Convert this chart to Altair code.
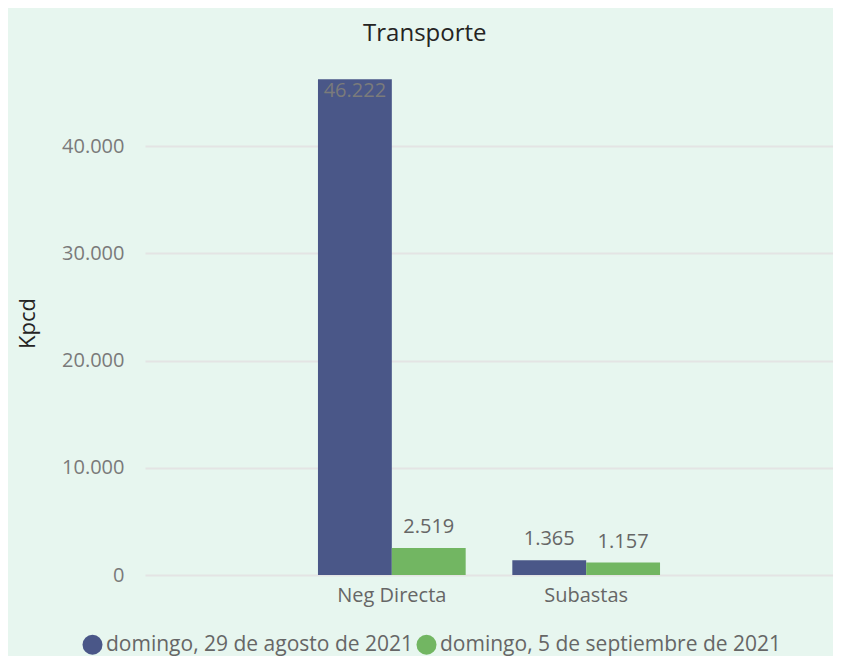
import altair as alt
import pandas as pd

categories = ["Neg Directa", "Neg Directa", "Subastas", "Subastas"]
series_names = ["domingo, 29 de agosto de 2021", "domingo, 5 de septiembre de 2021"]
series = [series_names[0], series_names[1], series_names[0], series_names[1]]
values = [46222, 2519, 1365, 1157]
cat_order = ["Neg Directa", "Subastas"]
y_ticks = [0, 10000, 20000, 30000, 40000]
colors = ["#4a5788", "#72b662"]

df = pd.DataFrame({"cat": categories, "series": series, "value": values})

FONT = "Open Sans"
fmt_expr = "replace(format(datum.value, ','), ',', '.')"

x = alt.X(
    "cat:N",
    sort=cat_order,
    scale=alt.Scale(paddingInner=0.24, paddingOuter=0.89),
    axis=alt.Axis(
        title=None, labelAngle=0, labelFontSize=20, labelColor="#666666",
        labelPadding=10, ticks=False, domain=False, labelFont=FONT, grid=False,
    ),
)
xoff = alt.XOffset("series:N", sort=series_names,
                   scale=alt.Scale(paddingInner=0, paddingOuter=0))
y = alt.Y(
    "value:Q",
    scale=alt.Scale(domain=[0, 47000], nice=False),
    axis=alt.Axis(
        title="Kpcd", values=y_ticks, labelExpr=fmt_expr,
        labelFontSize=20, labelColor="#7a7a7a", labelFont=FONT, labelPadding=21,
        ticks=False, domain=False, grid=True, gridColor="#e4e4e4", gridWidth=2,
        titleFontSize=22, titleFont=FONT, titleFontWeight="normal",
        titleColor="#252423", titlePadding=22,
    ),
)
color = alt.Color(
    "series:N",
    sort=series_names,
    scale=alt.Scale(domain=series_names, range=colors),
    legend=alt.Legend(
        title=None, orient="none", legendX=-63, legendY=563,
        direction="horizontal", symbolType="circle", symbolSize=400,
        symbolStrokeWidth=0, labelFontSize=21, labelColor="#666666",
        labelFont=FONT, columnPadding=2, labelOffset=3, labelLimit=400,
    ),
)

bars = alt.Chart(df).mark_bar().encode(x=x, xOffset=xoff, y=y, color=color)

labels_out = (
    alt.Chart(df)
    .transform_filter("datum.value < 40000")
    .transform_calculate(lbl=fmt_expr)
    .mark_text(baseline="alphabetic", dy=-15, fontSize=20, color="#666666", font=FONT)
    .encode(x=x, xOffset=xoff, y=y, text="lbl:N")
)
labels_in = (
    alt.Chart(df)
    .transform_filter("datum.value >= 40000")
    .transform_calculate(lbl=fmt_expr)
    .mark_text(baseline="top", dy=2, fontSize=20, color="#7b7b7b", font=FONT)
    .encode(x=x, xOffset=xoff, y=y, text="lbl:N")
)

chart = (
    alt.layer(bars, labels_out, labels_in)
    .properties(
        width=688, height=504,
        autosize=alt.AutoSizeParams(type="none"),
        padding={"left": 137, "top": 63, "right": 0, "bottom": 81},
        background="#e7f6ef",
        title=alt.TitleParams(
            "Transporte", anchor="middle", frame="bounds", fontSize=24,
            font=FONT, fontWeight="normal", color="#252423", offset=25,
        ),
    )
    .configure_view(strokeWidth=0)
)

chart.save("out.html", embed_options={"renderer": "svg", "actions": False})
